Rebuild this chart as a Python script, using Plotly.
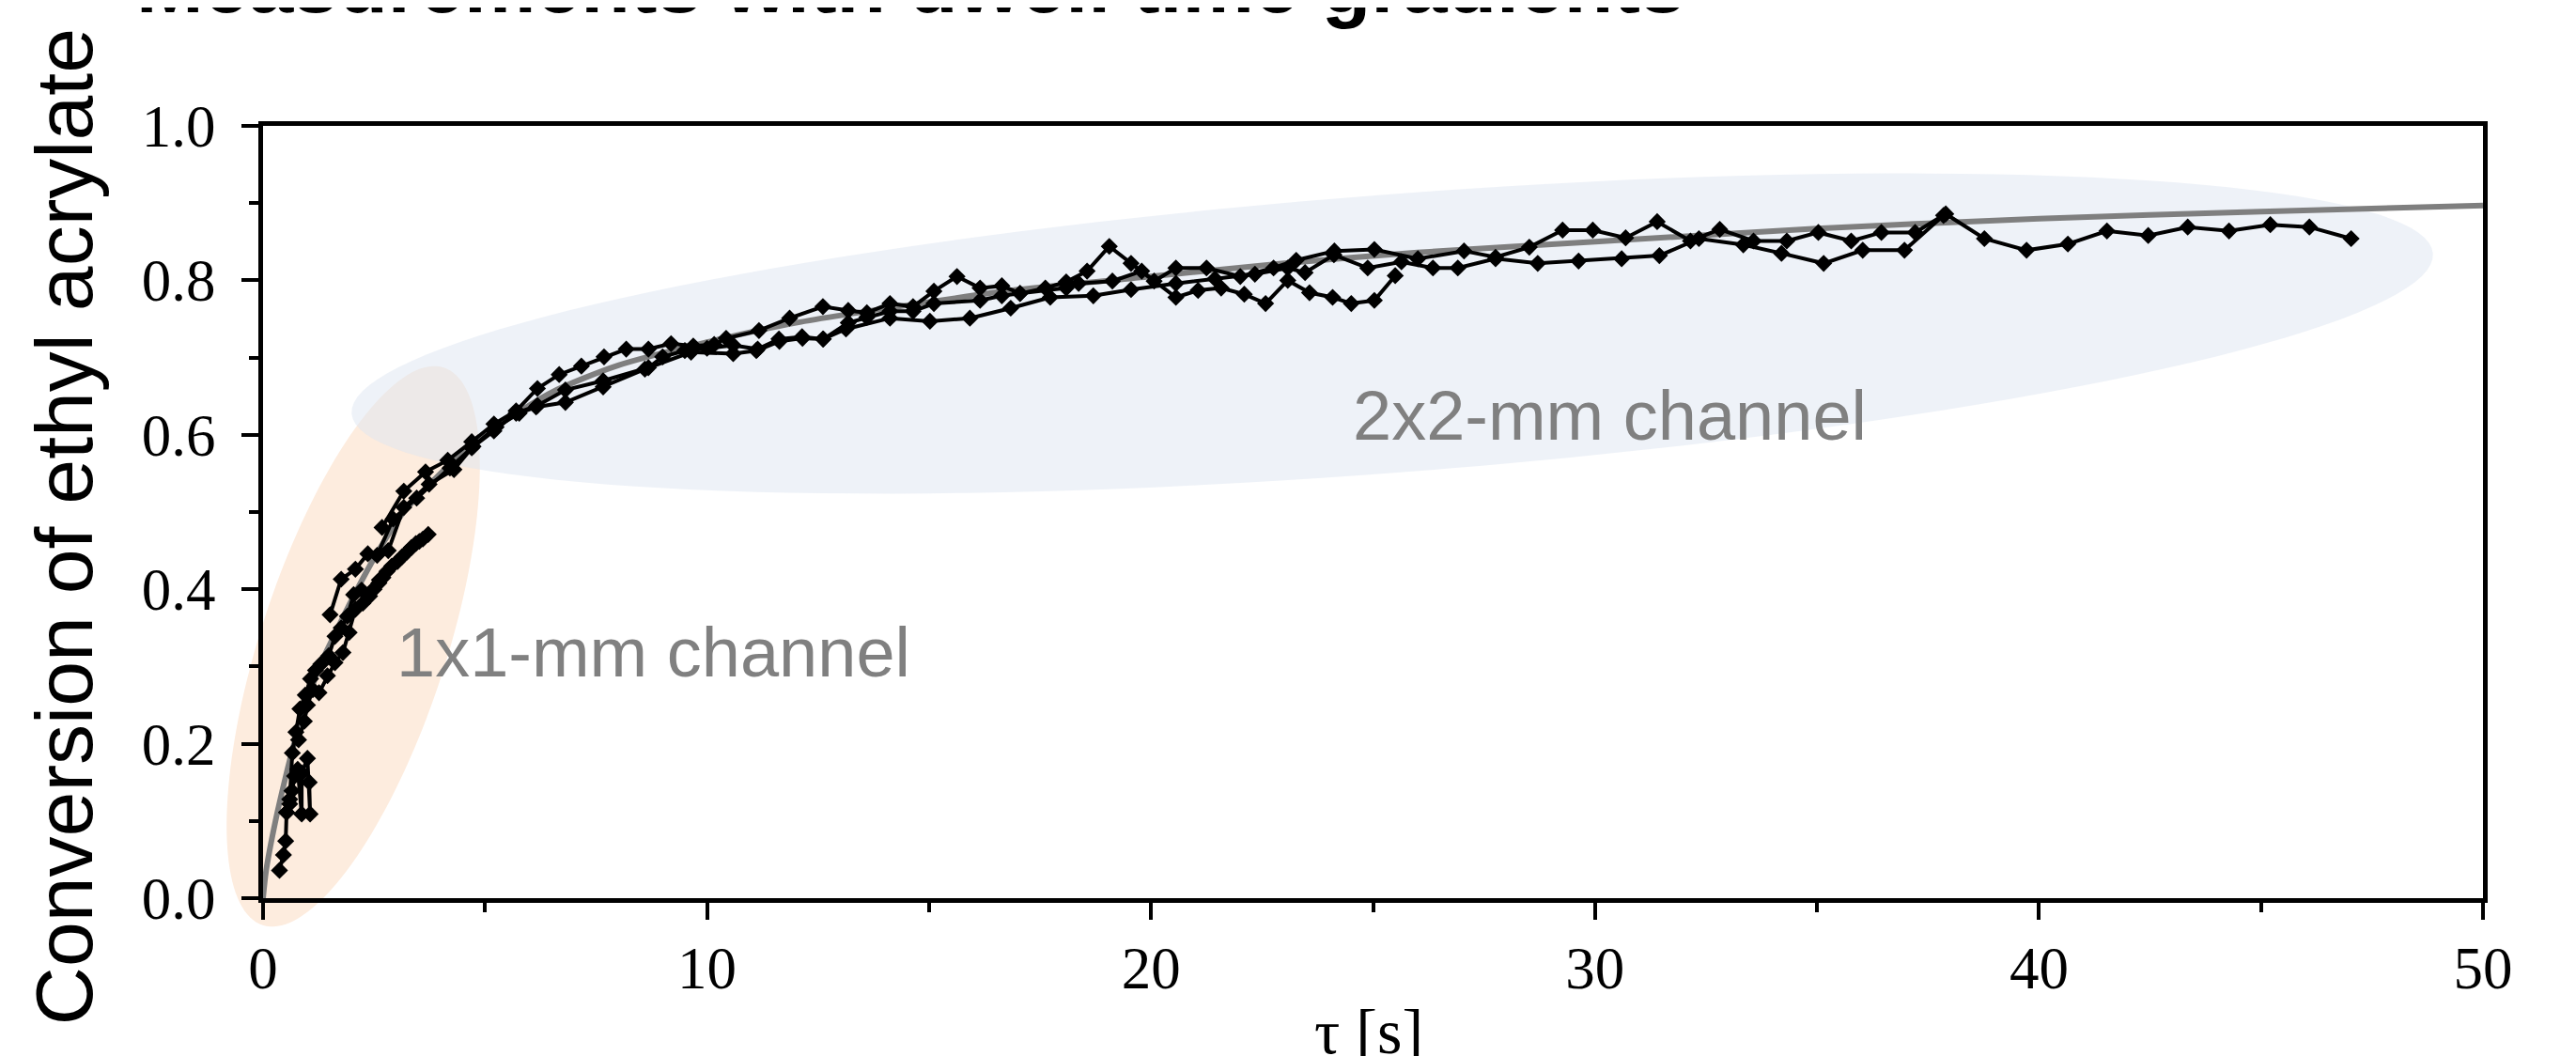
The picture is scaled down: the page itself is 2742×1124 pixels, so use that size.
import math
import plotly.graph_objects as go

# ---------------- data ----------------
# grey model curve
fit_tau = [0, 0.07, 0.28, 0.5, 0.7, 1.0, 1.27, 1.6, 2.12, 2.6, 3.17, 4.0, 4.73, 5.5, 6.5, 8, 10,
           12, 15, 17, 20, 23, 26, 30, 35, 40, 45, 50]
fit_conv = [0, 0.036, 0.10, 0.155, 0.20, 0.255, 0.30, 0.34, 0.40, 0.45, 0.50, 0.55, 0.59, 0.62,
            0.655, 0.69, 0.72, 0.745, 0.772, 0.788, 0.805, 0.822, 0.836, 0.85, 0.867, 0.88, 0.889, 0.897]

# 1x1-mm channel runs
mm1_a_tau = [0.37, 0.46, 0.51, 0.53, 0.60, 0.65, 0.71, 0.78, 0.87, 0.87, 1.00, 1.06, 1.04]
mm1_a_conv = [0.036, 0.056, 0.074, 0.111, 0.122, 0.139, 0.158, 0.167, 0.109, 0.162, 0.181, 0.109, 0.150]

mm1_b_tau = [0.53, 0.60, 0.66, 0.74, 0.83, 0.95, 1.07, 1.18, 1.30, 1.48, 1.62, 1.76, 1.90, 2.04,
             2.22, 2.40, 2.50, 2.61, 2.70, 2.79, 2.90, 3.03, 3.13, 3.24, 3.34, 3.44, 3.52, 3.60, 3.72]
mm1_b_conv = [0.111, 0.128, 0.188, 0.215, 0.245, 0.263, 0.284, 0.295, 0.303, 0.314, 0.339, 0.350,
              0.365, 0.393, 0.399, 0.391, 0.400, 0.408, 0.415, 0.423, 0.430, 0.436, 0.442, 0.448,
              0.454, 0.459, 0.462, 0.465, 0.471]

mm1_c_tau = [0.80, 0.93, 1.00, 1.12, 1.26, 1.45, 1.62, 1.80, 1.94, 2.08, 2.25, 2.45, 2.62]
mm1_c_conv = [0.205, 0.229, 0.250, 0.270, 0.266, 0.288, 0.305, 0.318, 0.344, 0.374, 0.382, 0.398, 0.412]

# 2x2-mm channel runs
mm2_a_tau = [2.68, 3.17, 3.66, 4.16, 4.70, 5.20, 5.70, 6.18, 6.67, 7.17, 7.68, 8.18, 8.68, 9.19,
             9.69, 10.16, 10.43, 11.17, 11.86, 12.61, 13.18, 13.60, 14.12, 14.64, 15.11, 15.63,
             16.15, 16.64, 17.05, 17.62, 18.09, 18.56, 19.06, 19.55, 20.07, 20.56, 21.25, 22.01,
             22.76, 23.27, 24.13, 25.03, 26.01, 27.05, 27.76, 28.52, 29.27, 29.95, 30.69, 31.40,
             32.15, 32.81, 33.57, 34.32, 35.03, 35.77, 36.45, 37.21, 37.90, 38.77, 39.72, 40.65,
             41.53, 42.46, 43.35, 44.28, 45.21, 46.09, 47.03]
mm2_a_conv = [0.480, 0.527, 0.552, 0.567, 0.591, 0.614, 0.631, 0.660, 0.678, 0.689, 0.701, 0.711,
              0.711, 0.718, 0.715, 0.717, 0.725, 0.735, 0.751, 0.766, 0.761, 0.758, 0.770, 0.766,
              0.786, 0.805, 0.790, 0.793, 0.783, 0.790, 0.798, 0.812, 0.844, 0.822, 0.799, 0.816,
              0.816, 0.805, 0.816, 0.826, 0.838, 0.840, 0.828, 0.838, 0.830, 0.843, 0.865, 0.865,
              0.855, 0.876, 0.851, 0.866, 0.851, 0.851, 0.862, 0.851, 0.862, 0.862, 0.886, 0.854,
              0.839, 0.847, 0.864, 0.858, 0.869, 0.864, 0.872, 0.869, 0.854]

mm2_b_tau = [1.51, 1.76, 2.08, 2.36, 2.57, 2.93, 3.46, 4.21, 4.70, 5.20, 5.70, 6.18, 6.81, 7.66,
             8.68, 9.00, 9.50, 10.00, 10.59, 11.14, 11.62, 12.14, 12.61, 13.13, 14.12, 15.02,
             15.92, 16.84, 17.73, 18.70, 19.55, 20.56, 21.44, 22.34, 23.08, 23.47, 24.12, 24.88,
             25.64, 26.35, 26.91, 27.76, 28.71, 29.63, 30.60, 31.45, 32.34, 33.34, 34.20, 35.15,
             36.03, 36.97, 37.85]
mm2_b_conv = [0.367, 0.413, 0.426, 0.446, 0.444, 0.491, 0.518, 0.557, 0.583, 0.605, 0.628, 0.638,
              0.658, 0.670, 0.687, 0.701, 0.709, 0.712, 0.716, 0.711, 0.724, 0.727, 0.724, 0.737,
              0.751, 0.747, 0.751, 0.764, 0.778, 0.780, 0.788, 0.796, 0.802, 0.808, 0.816, 0.810,
              0.833, 0.816, 0.824, 0.816, 0.816, 0.828, 0.822, 0.825, 0.828, 0.832, 0.854, 0.846,
              0.835, 0.822, 0.839, 0.839, 0.884]

mm2_c_tau = [2.82, 3.17, 3.74, 4.30, 4.73, 5.25, 5.77, 6.15, 6.81, 7.66, 8.60, 9.64, 10.59, 11.11,
             11.63, 12.15, 12.62, 13.18, 13.60, 14.12, 14.64, 15.11, 16.15, 16.64, 17.05, 18.09,
             18.37, 19.13, 19.79, 20.56, 21.06, 21.58, 22.10, 22.58, 23.08, 23.57, 24.09, 24.51,
             25.03, 25.50]
mm2_c_conv = [0.450, 0.506, 0.536, 0.555, 0.585, 0.610, 0.628, 0.636, 0.642, 0.662, 0.685, 0.707,
              0.705, 0.709, 0.721, 0.725, 0.724, 0.745, 0.752, 0.760, 0.760, 0.770, 0.774, 0.780,
              0.783, 0.790, 0.796, 0.799, 0.812, 0.778, 0.787, 0.790, 0.782, 0.770, 0.800, 0.784,
              0.778, 0.770, 0.774, 0.806]

runs = [(mm1_a_tau, mm1_a_conv), (mm1_b_tau, mm1_b_conv), (mm1_c_tau, mm1_c_conv),
        (mm2_a_tau, mm2_a_conv), (mm2_b_tau, mm2_b_conv), (mm2_c_tau, mm2_c_conv)]

x_ticks = [0, 10, 20, 30, 40, 50]
y_ticks = [0.0, 0.2, 0.4, 0.6, 0.8, 1.0]

title_text = "Measurements with dwell time gradients"
y_title = "Conversion of ethyl acrylate"
x_title = "τ [s]"
label_small = "1x1-mm channel"
label_big = "2x2-mm channel"

# ---------------- layout geometry (reference pixel frame) ----------------
W, H = 2742, 1124
ML, MR, MT, MB = 280, 99, 134, 168
PW, PH = W - ML - MR, H - MT - MB
OFF = 8  # default page margin of the html body

SANS = "Arial, Liberation Sans, Helvetica, sans-serif"
SERIF = "Times New Roman, Liberation Serif, serif"


def pxp(px, py):
    """reference pixel -> paper coordinates"""
    return (px - ML) / PW, (H - MB - py) / PH


def ellipse_path(cx, cy, a, b, ang_deg, n=160):
    t = math.radians(ang_deg)
    ux, uy = math.cos(t), -math.sin(t)
    vx, vy = math.sin(t), math.cos(t)
    pts = []
    for i in range(n):
        s = 2 * math.pi * i / n
        px = cx + a * math.cos(s) * ux + b * math.sin(s) * vx
        py = cy + a * math.cos(s) * uy + b * math.sin(s) * vy
        X, Y = pxp(px, py)
        pts.append(f"{X:.5f},{Y:.5f}")
    return "M " + " L ".join(pts) + " Z"


fig = go.Figure()

fig.add_trace(go.Scatter(x=fit_tau, y=fit_conv, mode="lines",
                         line=dict(color="#7f7f7f", width=6, shape="spline", smoothing=0.8),
                         showlegend=False, hoverinfo="skip"))

for tx, cy in runs:
    fig.add_trace(go.Scatter(x=tx, y=cy, mode="lines+markers",
                             line=dict(color="black", width=4),
                             marker=dict(symbol="diamond", size=14, color="black"),
                             showlegend=False))

shapes = [
    dict(type="path", xref="paper", yref="paper", layer="below",
         path=ellipse_path(376, 688, 312, 99, 72), fillcolor="#FDECDE", line=dict(width=0)),
    dict(type="path", xref="paper", yref="paper", layer="below",
         path=ellipse_path(1482, 355, 1111, 148, 4.4), fillcolor="rgba(222,230,241,0.5)",
         line=dict(width=0)),
]

anns = []
tx, ty = pxp(143, 13 - 0.3465 * 86)
anns.append(dict(text="<b>" + title_text + "</b>", x=tx, y=ty, xref="paper", yref="paper",
                 xanchor="left", yanchor="middle", showarrow=False,
                 font=dict(family=SANS, size=86, color="black")))
tx, ty = pxp(98 - 0.3465 * 86, 561)
anns.append(dict(text=y_title, x=tx, y=ty, xref="paper", yref="paper", textangle=-90,
                 xanchor="center", yanchor="middle", showarrow=False,
                 font=dict(family=SANS, size=86, color="black")))
tx, ty = pxp(1457, 1121 - 0.3375 * 68)
anns.append(dict(text=x_title, x=tx, y=ty, xref="paper", yref="paper",
                 xanchor="center", yanchor="middle", showarrow=False,
                 font=dict(family=SERIF, size=68, color="black")))
tx, ty = pxp(420, 720 - 0.3465 * 74)
anns.append(dict(text=label_small, x=tx, y=ty, xref="paper", yref="paper",
                 xanchor="left", yanchor="middle", showarrow=False,
                 font=dict(family=SANS, size=74, color="#808080")))
tx, ty = pxp(1438, 468 - 0.3465 * 74)
anns.append(dict(text=label_big, x=tx, y=ty, xref="paper", yref="paper",
                 xanchor="left", yanchor="middle", showarrow=False,
                 font=dict(family=SANS, size=74, color="#808080")))

axis_common = dict(showline=True, linewidth=5, linecolor="black", mirror=True,
                   ticks="outside", tickwidth=4, tickcolor="black", ticklen=18,
                   showgrid=False, zeroline=False,
                   tickfont=dict(family=SERIF, size=63, color="black"))

fig.update_layout(
    width=W - OFF, height=H - OFF,
    margin=dict(l=ML - OFF, r=MR, t=MT - OFF, b=MB, pad=0),
    paper_bgcolor="white", plot_bgcolor="rgba(0,0,0,0)",
    shapes=shapes, annotations=anns, showlegend=False,
    xaxis=dict(range=[0, 50], tickvals=x_ticks, ticktext=[str(v) for v in x_ticks],
               ticklabelstandoff=-3,
               minor=dict(dtick=5, ticklen=10, tickwidth=4, tickcolor="black", ticks="outside",
                          showgrid=False),
               **axis_common),
    yaxis=dict(range=[0, 1.0], tickvals=y_ticks, ticktext=[f"{v:.1f}" for v in y_ticks],
               ticklabelstandoff=15,
               minor=dict(dtick=0.1, ticklen=10, tickwidth=4, tickcolor="black", ticks="outside",
                          showgrid=False),
               **axis_common),
)

fig.write_html("out.html")
